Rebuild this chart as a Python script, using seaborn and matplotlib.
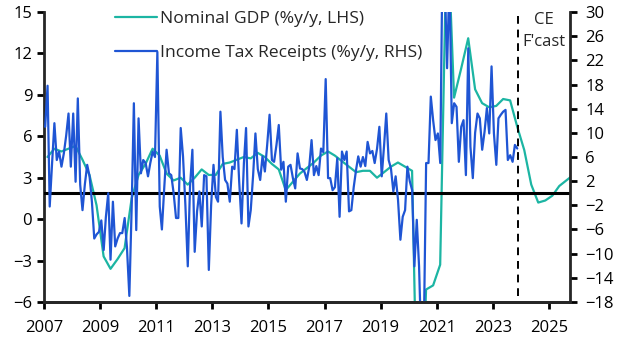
import numpy as np
import pandas as pd
import matplotlib
matplotlib.use('Agg')
import matplotlib.pyplot as plt
import seaborn as sns

# Nominal GDP %y/y (LHS), quarterly 2007Q1 - 2025Q4 (CE forecast from 2024)
gdp = [4.5, 5.1, 4.9, 5.1, 5.3, 4.3, 3.2, 1.0,
       -2.7, -3.6, -2.9, -2.1, 1.5, 3.2, 4.0, 5.1,
       4.6, 3.3, 2.8, 3.0, 2.5, 3.0, 3.6, 3.2,
       3.2, 4.0, 4.1, 4.3, 4.5, 4.4, 4.8, 4.5,
       4.0, 3.6, 2.1, 2.7, 3.3, 3.7, 4.1, 4.6,
       4.9, 4.6, 4.2, 3.8, 3.4, 3.5, 3.5, 3.0,
       3.4, 3.8, 4.1, 3.8, 3.5, -21.0, -5.1, -4.8,
       -3.3, 22.0, 8.8, 10.9, 13.1, 9.4, 8.4, 8.1,
       8.2, 8.7, 8.6, 6.7, 5.0, 2.5, 1.2, 1.35,
       1.7, 2.4, 2.8, 3.2]

# Income tax receipts %y/y (RHS), monthly from Jan 2007
tax = [11.0, 17.8, -2.2, 5.0, 11.6, 5.5, 6.9, 4.4, 6.6, 9.5, 13.2, 4.4,
       13.2, 1.9, 15.7, 1.4, -2.8, 1.5, 4.7, 2.8, -1.5, -7.5, -6.8, -6.4,
       -4.5, -9.4, -4.0, 0.0, -11.0, -1.4, -8.8, -7.5, -6.6, -6.6, -4.1, -9.0,
       -17.0, -2.0, 14.9, -6.1, 12.4, 3.3, 5.5, 5.0, 2.8, 5.0, 6.9, 6.0,
       23.4, -2.2, -6.0, 1.0, 7.2, 3.3, 3.0, 0.0, -4.1, -4.1, 10.8, 6.1,
       -2.0, -12.1, 1.0, 7.2, -9.7, -3.0, 0.3, -5.5, 3.0, 2.8, -12.7, -2.0,
       4.7, -0.6, -1.4, 13.5, 6.0, 2.2, 1.6, -1.4, 4.4, 4.0, 10.5, 2.0,
       -5.0, 5.0, 10.8, -5.5, -2.8, 3.0, 9.9, 4.0, 2.2, 6.1, 3.6, 8.0,
       13.0, 5.5, 5.2, 8.0, 11.3, 3.9, 5.2, -1.4, 4.4, 4.7, 2.5, 0.8,
       6.6, 4.1, 4.0, 3.5, 2.2, 4.4, 8.8, 3.0, 4.5, 3.0, 7.4, 6.8,
       18.9, 2.5, 2.5, 0.5, 1.0, 5.8, -3.9, 6.9, 5.5, 6.9, -3.0, -2.8,
       1.0, 3.9, 6.1, 4.4, 6.0, 4.5, 8.5, 6.6, 7.0, 5.0, 7.4, 11.0,
       2.8, 8.0, 13.2, 5.5, 4.1, 0.3, 2.8, -1.1, -7.7, -3.9, -2.8, 4.4,
       2.0, 0.5, -12.1, -4.4, -12.1, -26.0, -24.0, 5.0, 5.0, 16.0, 12.0, 8.8,
       9.9, 5.0, 38.0, 35.0, 20.7, 36.0, 11.6, 14.9, 14.3, 5.2, 11.0, 12.1,
       3.0, 24.0, 7.7, 2.5, 10.0, 13.2, 12.4, 7.2, 10.2, 14.1, 9.9, 21.0,
       9.9, 4.7, 12.4, 13.0, 13.5, 13.8, 5.5, 6.3, 5.2, 8.0, 7.4]

gdp_dates = pd.date_range('2007-01-01', periods=len(gdp), freq='QS') + pd.Timedelta(days=45)
tax_dates = pd.date_range('2007-01-01', periods=len(tax), freq='MS') + pd.Timedelta(days=15)
df_gdp = pd.DataFrame({'date': gdp_dates, 'value': gdp})
df_tax = pd.DataFrame({'date': tax_dates, 'value': tax})

year_ticks = list(range(2007, 2026, 2))
forecast_start = '2023-12-01'

teal = '#1cb5a3'
blue = '#1f55d4'

sns.set_style('ticks')
plt.rcParams['font.family'] = ['Open Sans', 'DejaVu Sans']
fs = 12

fig = plt.figure(figsize=(6.29, 3.54), dpi=100)
ax = fig.add_axes([0.070, 0.147, 0.836, 0.819])
ax2 = ax.twinx()

sns.lineplot(data=df_gdp, x='date', y='value', ax=ax, color=teal, lw=1.6,
             label='Nominal GDP (%y/y, LHS)', legend=False)
sns.lineplot(data=df_tax, x='date', y='value', ax=ax2, color=blue, lw=1.6,
             label='Income Tax Receipts (%y/y, RHS)', legend=False)

ax.set_ylim(-6, 15)
ax.set_yticks(np.arange(-6, 16, 3))
ax2.set_ylim(-18, 30)
ax2.set_yticks(np.arange(-18, 31, 4))
ax.set_xlim(pd.Timestamp('2007-01-01'), pd.Timestamp('2025-10-01'))
ax.set_xticks([pd.Timestamp(f'{y}-01-01') for y in year_ticks])
ax.set_xticklabels([str(y) for y in year_ticks])

ax2.axhline(0, color='black', lw=2.2, zorder=1)
ax.axvline(pd.Timestamp(forecast_start), ymin=0.02, ymax=1, color='black', lw=1.4, ls=(0, (4, 3)))
ax.text(pd.Timestamp('2024-11-01'), 13.6, "CE\nF'cast", ha='center', va='center', fontsize=fs,
        linespacing=1.5)

for a in (ax, ax2):
    a.set_xlabel('')
    a.set_ylabel('')
    a.spines['top'].set_visible(False)
    for s in ('left', 'right', 'bottom'):
        a.spines[s].set_linewidth(2)
    a.tick_params(width=2, length=5, labelsize=fs, colors='black')
ax.spines['right'].set_visible(False)
ax2.spines['left'].set_visible(False)
ax.tick_params(axis='x', pad=8)
ax2.tick_params(axis='y', pad=6)

h1, l1 = ax.get_legend_handles_labels()
h2, l2 = ax2.get_legend_handles_labels()
leg = ax.legend(h1 + h2, l1 + l2, loc='upper left', bbox_to_anchor=(0.105, 1.06), frameon=False,
                fontsize=12.6, handlelength=2.4, handletextpad=0.2, labelspacing=1.05)

fig.savefig('out.png', dpi=100)
